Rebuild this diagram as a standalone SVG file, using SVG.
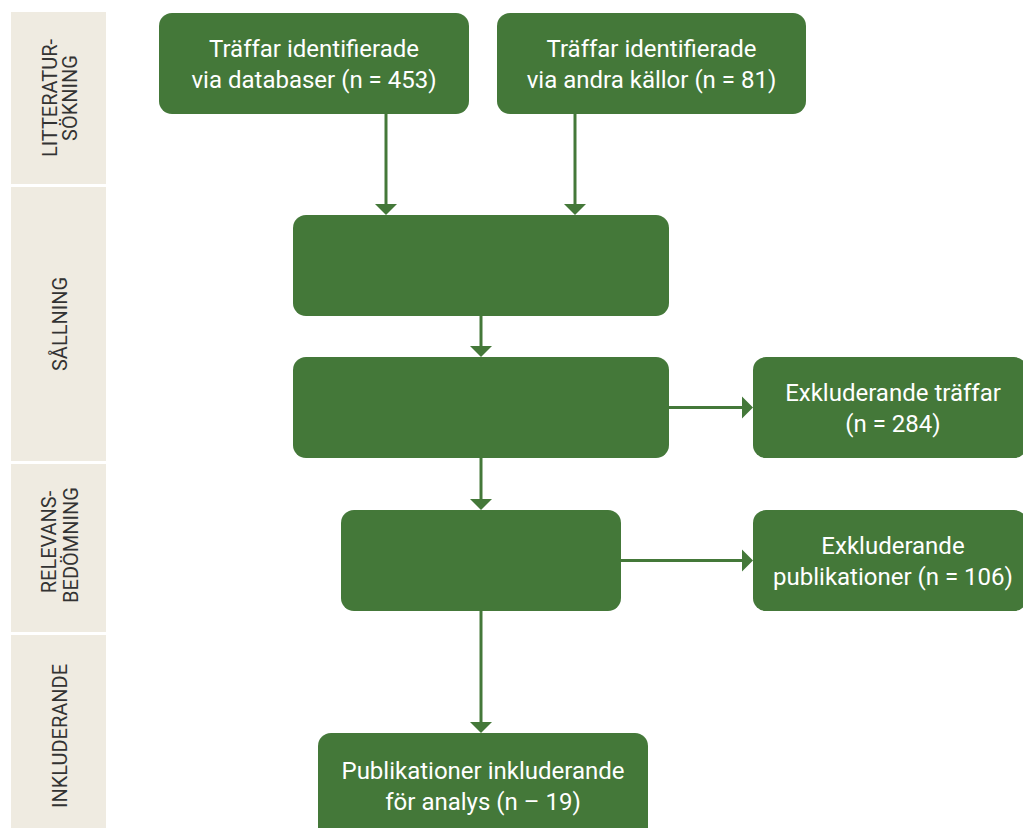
<svg xmlns="http://www.w3.org/2000/svg" width="1023" height="828" viewBox="0 0 1023 828">
<style>
.side{fill:#EFEBE1}
.st{font-family:Roboto,"Liberation Sans",sans-serif;font-size:20px;fill:#333;text-anchor:middle}
.box{fill:#447839}
.bt{font-family:Roboto,"Liberation Sans",sans-serif;font-size:24px;font-weight:400;fill:#fff;text-anchor:middle}
.ln{stroke:#447839;stroke-width:3;fill:none}
.hd{fill:#447839}
</style>
<rect width="1023" height="828" fill="#fff"/>
<g id="lane-litteratursokning">
<rect class="side" x="11" y="12" width="95" height="172"/>
<text class="st" transform="translate(57,98) rotate(-90)">LITTERATUR-</text>
<text class="st" transform="translate(77,98) rotate(-90)">SÖKNING</text>
</g>
<g id="lane-sallning">
<rect class="side" x="11" y="187" width="95" height="274"/>
<text class="st" transform="translate(67,324) rotate(-90)">SÅLLNING</text>
</g>
<g id="lane-relevansbedomning">
<rect class="side" x="11" y="464" width="95" height="168"/>
<text class="st" transform="translate(56,542) rotate(-90)">RELEVANS-</text>
<text class="st" transform="translate(78,545) rotate(-90)">BEDÖMNING</text>
</g>
<g id="lane-inkluderande">
<rect class="side" x="11" y="635" width="95" height="193"/>
<text class="st" transform="translate(67,736) rotate(-90)">INKLUDERANDE</text>
</g>
<g id="connectors">
<line class="ln" x1="386" y1="114" x2="386" y2="205"/>
<polygon class="hd" points="375,204 397,204 386,215"/>
<line class="ln" x1="575" y1="114" x2="575" y2="205"/>
<polygon class="hd" points="564,204 586,204 575,215"/>
<line class="ln" x1="481" y1="316" x2="481" y2="347"/>
<polygon class="hd" points="470,346 492,346 481,357"/>
<line class="ln" x1="481" y1="458" x2="481" y2="500"/>
<polygon class="hd" points="470,499 492,499 481,510"/>
<line class="ln" x1="481" y1="610" x2="481" y2="723"/>
<polygon class="hd" points="470,722 492,722 481,733"/>
<line class="ln" x1="669" y1="407.5" x2="743" y2="407.5"/>
<polygon class="hd" points="742,396.5 742,418.5 753,407.5"/>
<line class="ln" x1="621" y1="560.5" x2="743" y2="560.5"/>
<polygon class="hd" points="742,549.5 742,571.5 753,560.5"/>
</g>
<g id="node-databaser">
<rect class="box" x="159" y="13" width="310" height="101" rx="13"/>
<text class="bt" x="314" y="57">Träffar identifierade</text>
<text class="bt" x="314" y="88">via databaser (n = 453)</text>
</g>
<g id="node-andra-kallor">
<rect class="box" x="497" y="13" width="309" height="101" rx="13"/>
<text class="bt" x="651.5" y="57">Träffar identifierade</text>
<text class="bt" x="651.5" y="88">via andra källor (n = 81)</text>
</g>
<g id="node-sallning-1">
<rect class="box" x="293" y="215" width="376" height="101" rx="13"/>
</g>
<g id="node-sallning-2">
<rect class="box" x="293" y="357" width="376" height="101" rx="13"/>
</g>
<g id="node-exkl-traffar">
<rect class="box" x="753" y="357" width="274" height="101" rx="13"/>
<text class="bt" x="893" y="401">Exkluderande träffar</text>
<text class="bt" x="893" y="432">(n = 284)</text>
</g>
<g id="node-relevans">
<rect class="box" x="341" y="510" width="280" height="101" rx="13"/>
</g>
<g id="node-exkl-publ">
<rect class="box" x="753" y="510" width="274" height="101" rx="13"/>
<text class="bt" x="893" y="554">Exkluderande</text>
<text class="bt" x="893" y="585">publikationer (n = 106)</text>
</g>
<g id="node-inkluderade">
<rect class="box" x="318" y="733" width="330" height="110" rx="13"/>
<text class="bt" x="483" y="779">Publikationer inkluderande</text>
<text class="bt" x="483" y="810">för analys (n – 19)</text>
</g>
</svg>
